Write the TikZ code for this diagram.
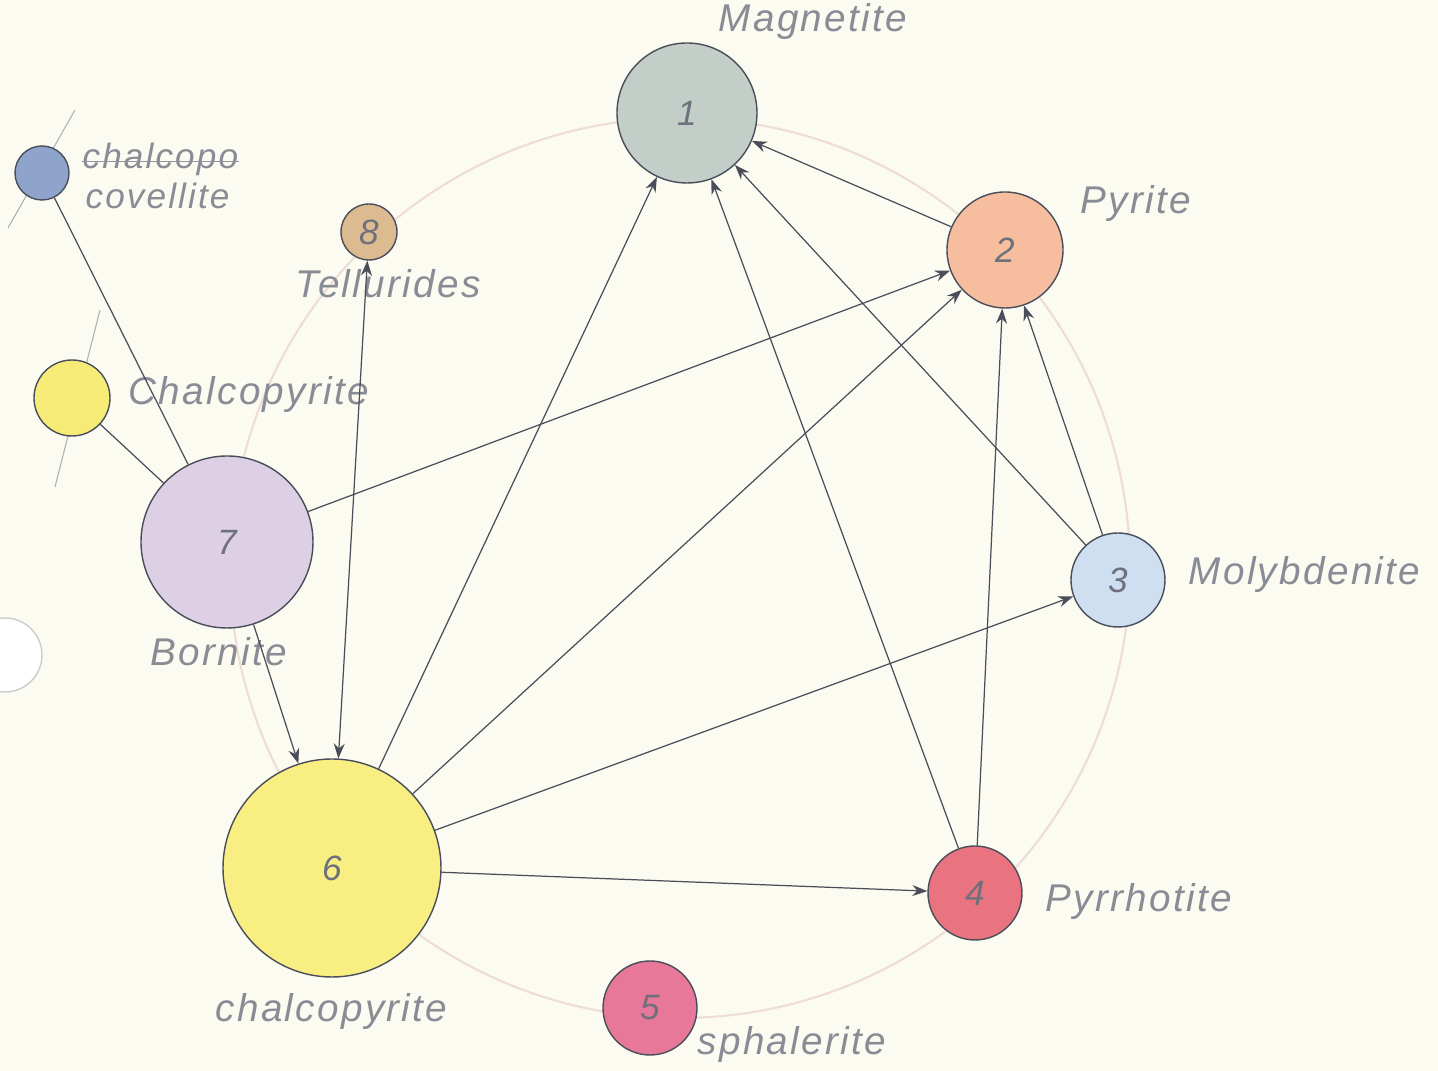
\documentclass[tikz,border=0pt]{standalone}
\usepackage{fontspec}
\setsansfont{Liberation Sans}
\newfontfamily\hand[LetterSpace=6]{Liberation Sans}
\usetikzlibrary{arrows.meta,positioning,backgrounds}
\usepackage{xcolor}
\definecolor{paper}{HTML}{FCFBF1}
\definecolor{pencil}{HTML}{4A4E5A}
\definecolor{orbit}{HTML}{EEDDD6}
\definecolor{magn}{HTML}{C3CEC8}
\definecolor{pyr}{HTML}{F6BE9E}
\definecolor{moly}{HTML}{CFDFF2}
\definecolor{pyrr}{HTML}{E9737F}
\definecolor{sphal}{HTML}{E8789A}
\definecolor{chalc}{HTML}{F8EE82}
\definecolor{born}{HTML}{DDD0E4}
\definecolor{tell}{HTML}{DCBB90}
\definecolor{covel}{HTML}{8FA4CB}
\definecolor{chalcs}{HTML}{F6EB77}

\begin{document}
\begin{tikzpicture}[x=0.1mm,y=-0.1mm,
    mineral/.style={circle,draw=pencil,line width=0.4pt,inner sep=0pt,
      font=\hand\itshape,text=pencil!80},
    lab/.style={anchor=base west,inner sep=0pt,text=pencil!65,
      font=\hand\itshape\fontsize{11}{13}\selectfont},
    flow/.style={pencil,line width=0.35pt,-{Stealth[length=1.5mm,width=1.1mm]}},
    twoway/.style={pencil,line width=0.35pt,{Stealth[length=1.5mm,width=1.1mm]}-{Stealth[length=1.5mm,width=1.1mm]}},
    tie/.style={pencil,line width=0.35pt}]
  \fill[paper] (0,0) rectangle (1438,1071);
  \useasboundingbox (0,0) rectangle (1438,1071);
  % punched hole
  \filldraw[fill=white,draw=gray!40] (5,655) circle[radius=3.7mm];
  % orbit and pencil marks
  \draw[orbit,line width=0.6pt] (680,568) circle[radius=45mm];
  \draw[pencil!45,line width=0.3pt] (8,228) -- (75,110);
  \draw[pencil!45,line width=0.3pt] (100,310) -- (55,487);

  % minerals
  \foreach \n/\x/\y/\d/\c/\t in {
      m1/687/113/14mm/magn/1, m2/1005/250/11.6mm/pyr/2,
      m3/1118/580/9.4mm/moly/3, m4/975/893/9.4mm/pyrr/4,
      m5/650/1008/9.4mm/sphal/5, m6/332/868/21.8mm/chalc/6,
      m7/227/542/17.2mm/born/7, m8/369/232/5.6mm/tell/8,
      cov/42/173/5.4mm/covel/, chp/72/398/7.6mm/chalcs/}
    \node[mineral,minimum size=\d,fill=\c] (\n) at (\x,\y) {\t};

  % names
  \foreach \n/\x/\y/\t in {
      l1/718/32/Magnetite, l2/1080/214/Pyrite, l3/1188/585/Molybdenite,
      l4/1045/912/Pyrrhotite, l5/697/1055/sphalerite,
      l6/215/1022/chalcopyrite, l7/150/666/Bornite, l8/295/298/Tellurides,
      lchp/128/405/Chalcopyrite}
    \node[lab] (\n) at (\x,\y) {\t};
  \node[lab,font=\hand\itshape\fontsize{10}{12}\selectfont] (lcov1) at (82,169) {chalcopo};
  \node[lab,font=\hand\itshape\fontsize{10}{12}\selectfont] (lcov2) at (85,209) {covellite};
  \draw[pencil!60,line width=0.3pt] (lcov1.mid west) -- (lcov1.mid east);

  % links
  \foreach \a/\b in {m6/m1, m6/m2, m6/m3, m6/m4, m7/m2, m7/m6,
      m4/m1, m4/m2, m3/m1, m3/m2, m2/m1}
    \draw[flow] (\a) -- (\b);
  \draw[twoway] (m8) -- (m6);
  \draw[tie] (cov) -- (m7);
  \draw[tie] (chp) -- (m7);
\end{tikzpicture}
\end{document}
